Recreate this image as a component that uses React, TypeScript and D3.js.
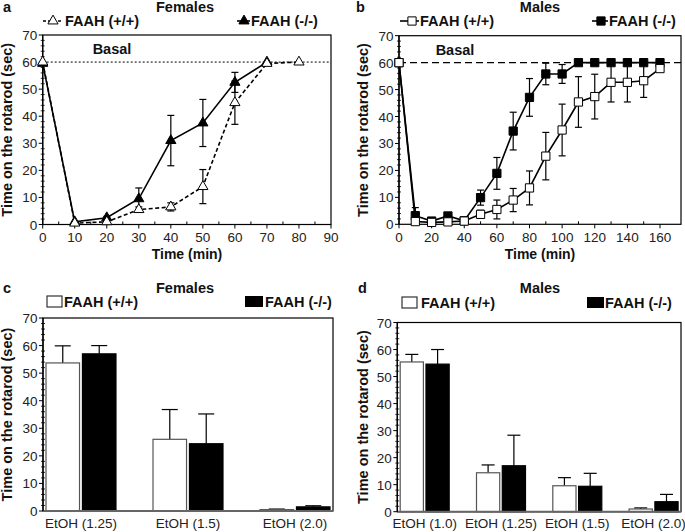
import React from "react";
import * as d3 from "d3";

// ---------- DATA ----------
// Panel a (Females, time course)
const timeAWT = [0, 10, 20, 30, 40, 50, 60, 70, 80];
const aWT = [60, 0.5, 1, 5.5, 6.5, 14, 45, 59.5, 60];
const aWTerr = [0, 0, 0, 1, 1.5, 6.3, 8, 0, 0];
const timeAKO = [0, 10, 20, 30, 40, 50, 60, 70];
const aKO = [59.5, 1, 2.5, 9.5, 31, 37.5, 52.5, 60];
const aKOerr = [0, 0, 0.5, 4, 9.3, 8.7, 3.7, 0];
const ticksAX = [0, 10, 20, 30, 40, 50, 60, 70, 80, 90];

// Panel b (Males, time course)
const timeB = [0, 10, 20, 30, 40, 50, 60, 70, 80, 90, 100, 110, 120, 130, 140, 150, 160];
const bWT = [60, 1, 0.7, 0.9, 1.2, 3.7, 5.5, 9, 13.5, 25.3, 35, 45.4, 47.4, 52.7, 52.7, 53.3, 57.8];
const bWTerr = [0, 0.5, 0.3, 0.5, 0.5, 1.5, 3.5, 4.3, 6.3, 8.8, 9.6, 9.4, 8.3, 7.3, 7.3, 6.2, 0.8];
const bKO = [60, 3.2, 1.2, 3.1, 1.3, 9.9, 18.9, 34.6, 47.1, 55.8, 55.8, 60, 60, 60, 60, 60, 60];
const bKOerr = [0, 3, 0.5, 0.5, 0.3, 2.8, 5.9, 7, 7, 4, 3.5, 0, 0, 0, 0, 0, 0];
const ticksBX = [0, 20, 40, 60, 80, 100, 120, 140, 160];

// Panel c (Females, bars)
const catsC = ["EtOH (1.25)", "EtOH (1.5)", "EtOH (2.0)"];
const cWT = [53.7, 26, 0.5];
const cWTerr = [6.2, 10.8, 0.2];
const cKO = [57, 24.4, 1.5];
const cKOerr = [3, 10.8, 0.4];

// Panel d (Males, bars)
const catsD = ["EtOH (1.0)", "EtOH (1.25)", "EtOH (1.5)", "EtOH (2.0)"];
const dWT = [55.4, 14.4, 9.6, 1];
const dWTerr = [2.8, 2.9, 3, 0.4];
const dKO = [54.6, 17, 9.4, 3.7];
const dKOerr = [5.4, 11.3, 4.8, 2.7];

const ticksY = [0, 10, 20, 30, 40, 50, 60, 70];
const basal = 60;
const yLabel = "Time on the rotarod (sec)";
const xLabel = "Time (min)";
const legWT = "FAAH (+/+)";
const legKO = "FAAH (-/-)";

const FONT = "'Liberation Sans', Arial, Helvetica, sans-serif";
const TICK = 13.5;
const BOLD = 14.5;

// ---------- helpers ----------
function YAxis({ y, x, labelX }: { y: d3.ScaleLinear<number, number>; x: number; labelX: number }) {
  const minors = d3.range(0, 71, 2).filter((v) => v % 10 !== 0);
  const [y0, y1] = [y(0), y(70)];
  return (
    <g>
      <line x1={x} x2={x} y1={y0} y2={y1} stroke="#000" strokeWidth={1.3} />
      {ticksY.map((t) => (
        <g key={t}>
          <line x1={x - 4} x2={x} y1={y(t)} y2={y(t)} stroke="#000" strokeWidth={1} />
          <text x={x - 5.5} y={y(t) + 5} textAnchor="end" fontSize={TICK} fontFamily={FONT} fill="#222">
            {t}
          </text>
        </g>
      ))}
      {minors.map((t) => (
        <line key={"m" + t} x1={x - 2} x2={x + 2} y1={y(t)} y2={y(t)} stroke="#000" strokeWidth={0.8} />
      ))}
      <text
        transform={`translate(${labelX},${(y0 + y1) / 2}) rotate(-90)`}
        textAnchor="middle"
        fontSize={BOLD}
        fontWeight="bold"
        fontFamily={FONT}
        fill="#111"
      >
        {yLabel}
      </text>
    </g>
  );
}

function ErrBar({ x, yTop, yBot, w }: { x: number; yTop: number; yBot: number; w: number }) {
  return (
    <g stroke="#000" strokeWidth={1.2}>
      <line x1={x} x2={x} y1={yTop} y2={yBot} />
      <line x1={x - w / 2} x2={x + w / 2} y1={yTop} y2={yTop} />
      <line x1={x - w / 2} x2={x + w / 2} y1={yBot} y2={yBot} />
    </g>
  );
}

function Series({
  xs,
  ys,
  errs,
  x,
  y,
  symbol,
  size,
  filled,
  dash,
}: {
  xs: number[];
  ys: number[];
  errs: number[];
  x: d3.ScaleLinear<number, number>;
  y: d3.ScaleLinear<number, number>;
  symbol: d3.SymbolType;
  size: number;
  filled: boolean;
  dash?: string;
}) {
  const pts = xs.map((t, i) => [t, ys[i]] as [number, number]);
  const line = d3
    .line<[number, number]>()
    .x((d) => x(d[0]))
    .y((d) => y(d[1]));
  const sym = d3.symbol(symbol, size)();
  return (
    <g>
      {pts.map((d, i) =>
        errs[i] > 0 ? (
          <ErrBar key={"e" + i} x={x(d[0])} yTop={y(d[1] + errs[i])} yBot={y(Math.max(0, d[1] - errs[i]))} w={7} />
        ) : null
      )}
      <path d={line(pts) || ""} fill="none" stroke="#000" strokeWidth={1.6} strokeDasharray={dash} />
      {pts.map((d, i) => (
        <path
          key={i}
          d={sym || ""}
          transform={`translate(${x(d[0])},${y(d[1])})`}
          fill={filled ? "#000" : "#fff"}
          stroke="#000"
          strokeWidth={1}
        />
      ))}
    </g>
  );
}

function BarPanel({
  cats,
  wt,
  wtErr,
  ko,
  koErr,
  x0,
  x1,
  y,
  padIn,
  padOut,
  subPad,
  capW,
}: {
  cats: string[];
  wt: number[];
  wtErr: number[];
  ko: number[];
  koErr: number[];
  x0: number;
  x1: number;
  y: d3.ScaleLinear<number, number>;
  padIn: number;
  padOut: number;
  subPad: number;
  capW: number;
}) {
  const xg = d3.scaleBand<string>().domain(cats).range([x0, x1]).paddingInner(padIn).paddingOuter(padOut);
  const xs = d3.scaleBand<string>().domain(["wt", "ko"]).range([0, xg.bandwidth()]).paddingInner(subPad);
  const y0 = y(0);
  return (
    <g>
      {cats.map((c, i) => {
        const gx = xg(c) as number;
        const series = [
          { k: "wt", v: wt[i], e: wtErr[i], fill: "#fff", stroke: "#555" },
          { k: "ko", v: ko[i], e: koErr[i], fill: "#000", stroke: "#000" },
        ];
        return (
          <g key={c}>
            {series.map((s) => {
              const bx = gx + (xs(s.k) as number);
              const bw = xs.bandwidth();
              const cx = bx + bw / 2;
              return (
                <g key={s.k}>
                  <line x1={cx} x2={cx} y1={y(s.v)} y2={y(s.v + s.e)} stroke="#000" strokeWidth={1.2} />
                  <line x1={cx - capW / 2} x2={cx + capW / 2} y1={y(s.v + s.e)} y2={y(s.v + s.e)} stroke="#000" strokeWidth={1.2} />
                  <rect x={bx} y={y(s.v)} width={bw} height={y0 - y(s.v)} fill={s.fill} stroke={s.stroke} strokeWidth={1.2} />
                </g>
              );
            })}
            <text x={gx + xg.bandwidth() / 2} y={y0 + 16.5} textAnchor="middle" fontSize={TICK} fontFamily={FONT} fill="#222">
              {c}
            </text>
          </g>
        );
      })}
      <line x1={x0} x2={x1} y1={y0} y2={y0} stroke="#666" strokeWidth={2} />
    </g>
  );
}

function Txt({ x, y, children, size = BOLD, anchor = "start" }: any) {
  return (
    <text x={x} y={y} fontSize={size} fontWeight="bold" fontFamily={FONT} textAnchor={anchor} fill="#111">
      {children}
    </text>
  );
}

export default function App() {
  // Panel a scales
  const xA = d3.scaleLinear().domain([0, 90]).range([42.7, 331]);
  const yA = d3.scaleLinear().domain([0, 70]).range([224.5, 35]);
  // Panel b scales
  const xB = d3.scaleLinear().domain([0, 160]).range([399, 660]);
  const yB = d3.scaleLinear().domain([0, 70]).range([224.3, 35.7]);
  const bRight = 681;
  // Panel c/d
  const yC = d3.scaleLinear().domain([0, 70]).range([511, 318]);
  const yD = d3.scaleLinear().domain([0, 70]).range([511.7, 322.5]);
  const cL = 43,
    cR = 333,
    dL = 397.3,
    dR = 681;

  const triSym = d3.symbol(d3.symbolTriangle, 45)() || "";
  const sqSym = d3.symbol(d3.symbolSquare, 68)() || "";

  const xMinorA = d3.range(5, 90, 10);
  const xMinorB = d3.range(10, 170, 20);

  return (
    <svg
      width={685}
      height={532}
      viewBox="0 0 685 532"
      style={{ position: "absolute", left: 0, top: 0, background: "#fff" }}
    >
      <rect x={0} y={0} width={685} height={532} fill="#fff" />

      {/* ---------------- Panel a ---------------- */}
      <Txt x={3} y={12}>a</Txt>
      <Txt x={185} y={12} anchor="middle">Females</Txt>
      <line x1={43} x2={63} y1={21} y2={21} stroke="#000" strokeWidth={1.6} strokeDasharray="3,2" />
      <path d={triSym} transform="translate(53,21)" fill="#fff" stroke="#000" />
      <Txt x={65} y={26}>{legWT}</Txt>
      <line x1={237} x2={250} y1={21} y2={21} stroke="#000" strokeWidth={1.6} />
      <path d={triSym} transform="translate(244,21)" fill="#000" stroke="#000" />
      <Txt x={251} y={26}>{legKO}</Txt>

      <rect x={xA(0)} y={yA(70)} width={xA(90) - xA(0)} height={yA(0) - yA(70)} fill="none" stroke="#000" strokeWidth={1.2} />
      <line x1={xA(0)} x2={xA(90)} y1={yA(basal)} y2={yA(basal)} stroke="#000" strokeWidth={1} strokeDasharray="2,2" />
      <Txt x={112} y={54} anchor="middle">Basal</Txt>
      {ticksAX.map((t) => (
        <g key={t}>
          <line x1={xA(t)} x2={xA(t)} y1={yA(0)} y2={yA(0) + 4} stroke="#000" />
          <text x={xA(t)} y={yA(0) + 17.5} textAnchor="middle" fontSize={TICK} fontFamily={FONT} fill="#222">
            {t}
          </text>
        </g>
      ))}
      {xMinorA.map((t) => (
        <line key={t} x1={xA(t)} x2={xA(t)} y1={yA(0)} y2={yA(0) - 3} stroke="#000" />
      ))}
      <YAxis y={yA} x={xA(0)} labelX={12} />
      <Txt x={187} y={259} anchor="middle" size={14}>{xLabel}</Txt>
      <Series xs={timeAKO} ys={aKO} errs={aKOerr} x={xA} y={yA} symbol={d3.symbolTriangle} size={45} filled />
      <Series xs={timeAWT} ys={aWT} errs={aWTerr} x={xA} y={yA} symbol={d3.symbolTriangle} size={45} filled={false} dash="4,2.5" />

      {/* ---------------- Panel b ---------------- */}
      <Txt x={356} y={12}>b</Txt>
      <Txt x={540} y={12} anchor="middle">Males</Txt>
      <line x1={400} x2={419} y1={21} y2={21} stroke="#000" strokeWidth={1.6} />
      <path d={sqSym} transform="translate(412,21)" fill="#fff" stroke="#000" />
      <Txt x={420} y={26}>{legWT}</Txt>
      <line x1={592} x2={608} y1={21} y2={21} stroke="#000" strokeWidth={1.6} />
      <path d={sqSym} transform="translate(601,21)" fill="#000" stroke="#000" />
      <Txt x={609} y={26}>{legKO}</Txt>

      <rect x={xB(0)} y={yB(70)} width={bRight - xB(0)} height={yB(0) - yB(70)} fill="none" stroke="#000" strokeWidth={1.2} />
      <line x1={xB(0)} x2={bRight} y1={yB(basal)} y2={yB(basal)} stroke="#000" strokeWidth={1.2} strokeDasharray="7,4" />
      <Txt x={455} y={55} anchor="middle">Basal</Txt>
      {ticksBX.map((t) => (
        <g key={t}>
          <line x1={xB(t)} x2={xB(t)} y1={yB(0)} y2={yB(0) + 4} stroke="#000" />
          <text x={xB(t)} y={yB(0) + 17.5} textAnchor="middle" fontSize={TICK} fontFamily={FONT} fill="#222">
            {t}
          </text>
        </g>
      ))}
      {xMinorB.map((t) => (
        <line key={t} x1={xB(t)} x2={xB(t)} y1={yB(0)} y2={yB(0) - 3} stroke="#000" />
      ))}
      <YAxis y={yB} x={xB(0)} labelX={368} />
      <Txt x={540} y={259} anchor="middle" size={14}>{xLabel}</Txt>
      <Series xs={timeB} ys={bKO} errs={bKOerr} x={xB} y={yB} symbol={d3.symbolSquare} size={68} filled />
      <Series xs={timeB} ys={bWT} errs={bWTerr} x={xB} y={yB} symbol={d3.symbolSquare} size={68} filled={false} />

      {/* ---------------- Panel c ---------------- */}
      <Txt x={3} y={293}>c</Txt>
      <Txt x={185} y={293} anchor="middle">Females</Txt>
      <rect x={47} y={296} width={15} height={11} fill="#fff" stroke="#333" strokeWidth={1.2} />
      <Txt x={64} y={307}>{legWT}</Txt>
      <rect x={245} y={296} width={18} height={11} fill="#000" />
      <Txt x={265} y={307}>{legKO}</Txt>
      <rect x={cL} y={yC(70)} width={cR - cL} height={yC(0) - yC(70)} fill="none" stroke="#000" strokeWidth={1.2} />
      <BarPanel cats={catsC} wt={cWT} wtErr={cWTerr} ko={cKO} koErr={cKOerr} x0={cL} x1={cR} y={yC} padIn={0.346} padOut={0.028} subPad={0.08} capW={16} />
      <YAxis y={yC} x={cL} labelX={12} />

      {/* ---------------- Panel d ---------------- */}
      <Txt x={358} y={293}>d</Txt>
      <Txt x={540} y={293} anchor="middle">Males</Txt>
      <rect x={402} y={297} width={15} height={11} fill="#fff" stroke="#333" strokeWidth={1.2} />
      <Txt x={421} y={308}>{legWT}</Txt>
      <rect x={587} y={297} width={17} height={11} fill="#000" />
      <Txt x={605} y={308}>{legKO}</Txt>
      <rect x={dL} y={yD(70)} width={dR - dL} height={yD(0) - yD(70)} fill="none" stroke="#000" strokeWidth={1.2} />
      <BarPanel cats={catsD} wt={dWT} wtErr={dWTerr} ko={dKO} koErr={dKOerr} x0={dL} x1={dR} y={yD} padIn={0.358} padOut={0.038} subPad={0.1} capW={13} />
      <YAxis y={yD} x={dL} labelX={368} />
    </svg>
  );
}
